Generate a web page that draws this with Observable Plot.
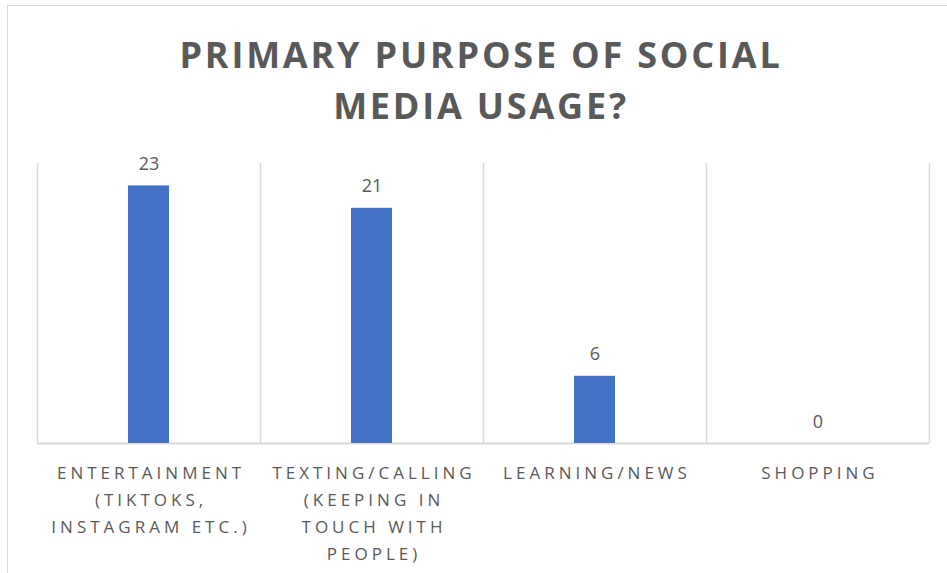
<!DOCTYPE html>
<html>
<head>
<meta charset="utf-8">
<script src="https://cdn.jsdelivr.net/npm/d3@7"></script>
<script src="https://cdn.jsdelivr.net/npm/@observablehq/plot@0.6"></script>
<style>
  html, body { margin: 0; padding: 0; background: #fff; }
  #wrap { position: relative; width: 947px; height: 573px; overflow: hidden; }
  #frame { position: absolute; left: 7px; top: 5px; width: 960px; height: 600px;
           border-left: 1.5px solid #d9d9d9; border-top: 1.5px solid #d9d9d9; box-sizing: border-box; }
  #title { position: absolute; left: 0; top: 29px; width: 962px; text-align: center;
           font-family: "Open Sans", sans-serif; font-weight: 700; font-size: 36px;
           letter-spacing: 2.8px; line-height: 51px; color: #595959; }
  #chart { position: absolute; left: 0; top: 0; }
  .cat { letter-spacing: 4px; }
</style>
</head>
<body>
<div id="wrap">
  <div id="frame"></div>
  <div id="title">PRIMARY PURPOSE OF SOCIAL<br>MEDIA USAGE?</div>
  <div id="chart"></div>
</div>
<script>
const categories = [
  "ENTERTAINMENT\n(TIKTOKS,\nINSTAGRAM ETC.)",
  "TEXTING/CALLING\n(KEEPING IN\nTOUCH WITH\nPEOPLE)",
  "LEARNING/NEWS",
  "SHOPPING"
];
const values = [23, 21, 6, 0];

const data = categories.map((c, i) => ({ i, c, v: values[i] }));
const half = 0.092;
const bounds = d3.range(categories.length + 1);

const plot = Plot.plot({
  width: 947,
  height: 573,
  marginLeft: 37,
  marginRight: 18,
  marginTop: 163,
  marginBottom: 130,
  x: { domain: [0, categories.length], axis: null },
  y: { domain: [0, 25], axis: null },
  style: { fontFamily: "Open Sans, sans-serif", background: "transparent", overflow: "visible" },
  marks: [
    Plot.ruleX(bounds, { x: d => d, y1: 0, y2: 25, stroke: "#d9d9d9", strokeWidth: 1.5 }),
    Plot.ruleY([0], { stroke: "#d9d9d9", strokeWidth: 2 }),
    Plot.rectY(data, { x1: d => d.i + 0.5 - half, x2: d => d.i + 0.5 + half, y1: 0, y2: "v", fill: "#4472C4" }),
    Plot.text(data, { x: d => d.i + 0.5, y: "v", text: d => String(d.v), lineAnchor: "bottom", dy: -16,
                      fontSize: 18, fill: "#595959" }),
    Plot.text(data, { x: d => d.i + 0.5 + 0.009, y: 0, text: "c", lineAnchor: "top", dy: 16,
                      fontSize: 17, lineHeight: 1.6, fill: "#595959", className: "cat" })
  ]
});
document.getElementById("chart").appendChild(plot);
</script>
</body>
</html>
